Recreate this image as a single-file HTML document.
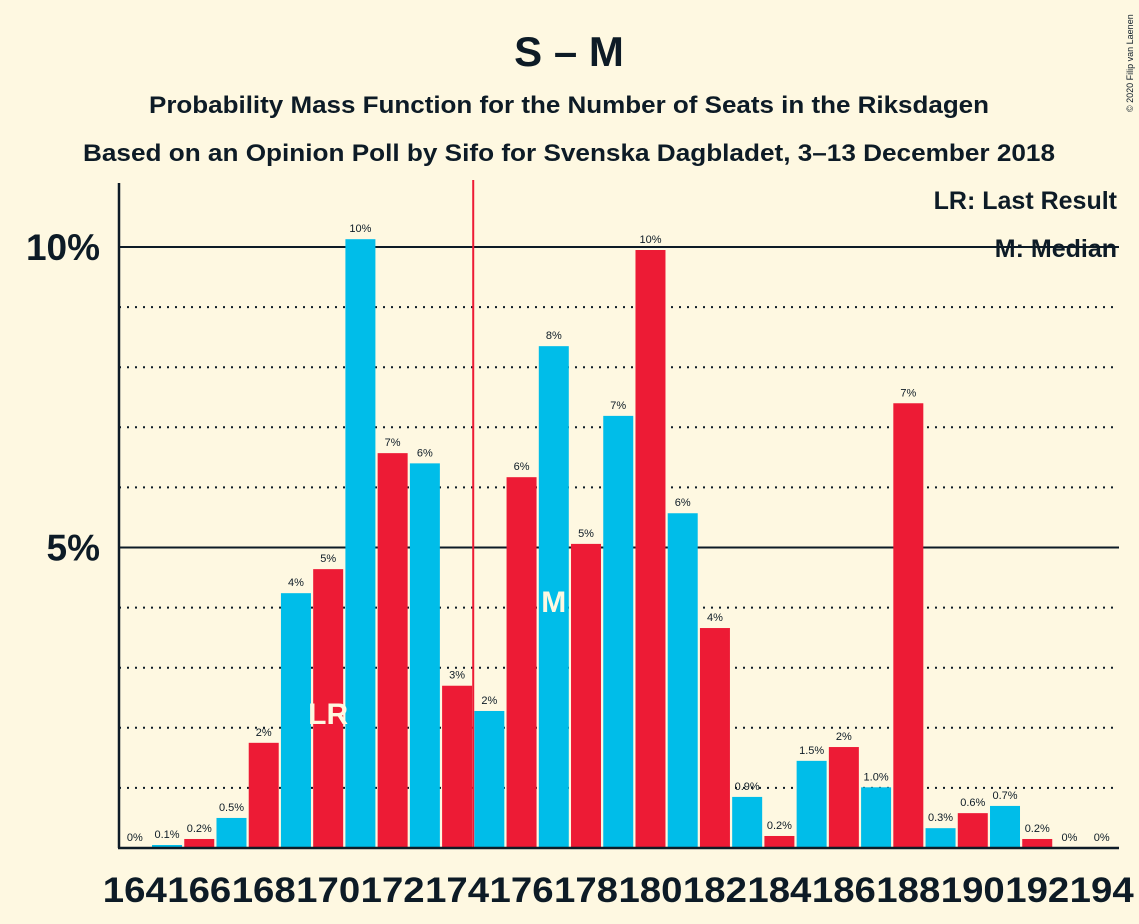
<!DOCTYPE html>
<html><head><meta charset="utf-8"><style>
body{margin:0;background:#fef8e1;}
svg{display:block;font-family:"Liberation Sans",sans-serif;}
</style></head><body>
<svg id="chart" width="1139" height="924" viewBox="0 0 1139 924">
<rect width="1139" height="924" fill="#fef8e1"/>
<text x="569" y="66" text-anchor="middle" font-size="42" font-weight="bold" fill="#0d1b26">S – M</text>
<text x="569" y="113" text-anchor="middle" font-size="24" font-weight="bold" fill="#0d1b26" textLength="840" lengthAdjust="spacingAndGlyphs">Probability Mass Function for the Number of Seats in the Riksdagen</text>
<text x="569" y="161" text-anchor="middle" font-size="24" font-weight="bold" fill="#0d1b26" textLength="972" lengthAdjust="spacingAndGlyphs">Based on an Opinion Poll by Sifo for Svenska Dagbladet, 3–13 December 2018</text>
<text x="1133" y="112" font-size="9" fill="#0d1b26" transform="rotate(-90 1133 112)">© 2020 Filip van Laenen</text>
<g id="grid"></g>
<g id="bars"></g>
<g id="labels"></g>
<line x1="119" y1="183" x2="119" y2="848" stroke="#0d1b26" stroke-width="2.5"/>
<line x1="118" y1="848" x2="1119" y2="848" stroke="#0d1b26" stroke-width="2.5"/>
<text x="1117" y="209" text-anchor="end" font-size="25" font-weight="bold" fill="#0d1b26">LR: Last Result</text>
<text x="1117" y="257" text-anchor="end" font-size="25" font-weight="bold" fill="#0d1b26">M: Median</text>
</svg>
<script>
const seats=[164,165,166,167,168,169,170,171,172,173,174,175,176,177,178,179,180,181,182,183,184,185,186,187,188,189,190,191,192,193,194];
const probs=[0,0.05,0.15,0.5,1.75,4.24,4.64,10.13,6.57,6.4,2.7,2.28,6.17,8.35,5.06,7.19,9.95,5.57,3.66,0.85,0.2,1.45,1.68,1.01,7.4,0.33,0.58,0.7,0.15,0,0];
const valueLabels=["0%","0.1%","0.2%","0.5%","2%","4%","5%","10%","7%","6%","3%","2%","6%","8%","5%","7%","10%","6%","4%","0.9%","0.2%","1.5%","2%","1.0%","7%","0.3%","0.6%","0.7%","0.2%","0%","0%"];
const yTicks=[5,10];
const yTickLabels=["5%","10%"];
const dottedTicks=[1,2,3,4,6,7,8,9];
const lastResult=170, median=177, medianLine=174.5;
const NS="http://www.w3.org/2000/svg";
const X0=134.8, STEP=32.23, BW=30;
const x=s=>X0+(s-164)*STEP;
const y=v=>848-v*60.1;
function mk(tag,attrs,parent,txt){const e=document.createElementNS(NS,tag);for(const k in attrs)e.setAttribute(k,attrs[k]);if(txt!==undefined)e.textContent=txt;parent.appendChild(e);return e;}
const grid=document.getElementById('grid'),bars=document.getElementById('bars'),labels=document.getElementById('labels');
dottedTicks.forEach(t=>{const l=mk('line',{x1:119,x2:1119,y1:y(t),y2:y(t),stroke:'#0d1b26','stroke-width':2,'stroke-dasharray':'2,6'},grid);

});
yTicks.forEach((t,i)=>{const l=mk('line',{x1:119,x2:1119,y1:y(t),y2:y(t),stroke:'#0d1b26','stroke-width':2},grid);


const tx=mk('text',{x:100,y:y(t)+13,'text-anchor':'end','font-size':37,'font-weight':'bold',fill:'#0d1b26'},labels,yTickLabels[i]);

});
seats.forEach((s,i)=>{const col=(s%2===1)?'#00bde9':'#ed1b35';
const r=mk('rect',{x:x(s)-BW/2,y:y(probs[i]),width:BW,height:848-y(probs[i]),fill:col},bars);


const t=mk('text',{x:x(s),y:y(probs[i])-7,'text-anchor':'middle','font-size':11,fill:'#0d1b26'},labels,valueLabels[i]);


if(s%2===0){const tk=mk('text',{x:x(s),y:902,'text-anchor':'middle','font-size':35,'font-weight':'bold',fill:'#0d1b26',textLength:64,lengthAdjust:'spacingAndGlyphs'},labels,String(s));

}
if(s===lastResult){const lt=mk('text',{x:x(s),y:724,'text-anchor':'middle','font-size':30,'font-weight':'bold',fill:'#fef8e1'},labels,'LR');

}
if(s===median){const mt=mk('text',{x:x(s),y:612,'text-anchor':'middle','font-size':30,'font-weight':'bold',fill:'#fef8e1'},labels,'M');

}
});
const ml=mk('line',{x1:x(medianLine),x2:x(medianLine),y1:180,y2:848,stroke:'#ed1b35','stroke-width':2},bars);


</script>
</body></html>
